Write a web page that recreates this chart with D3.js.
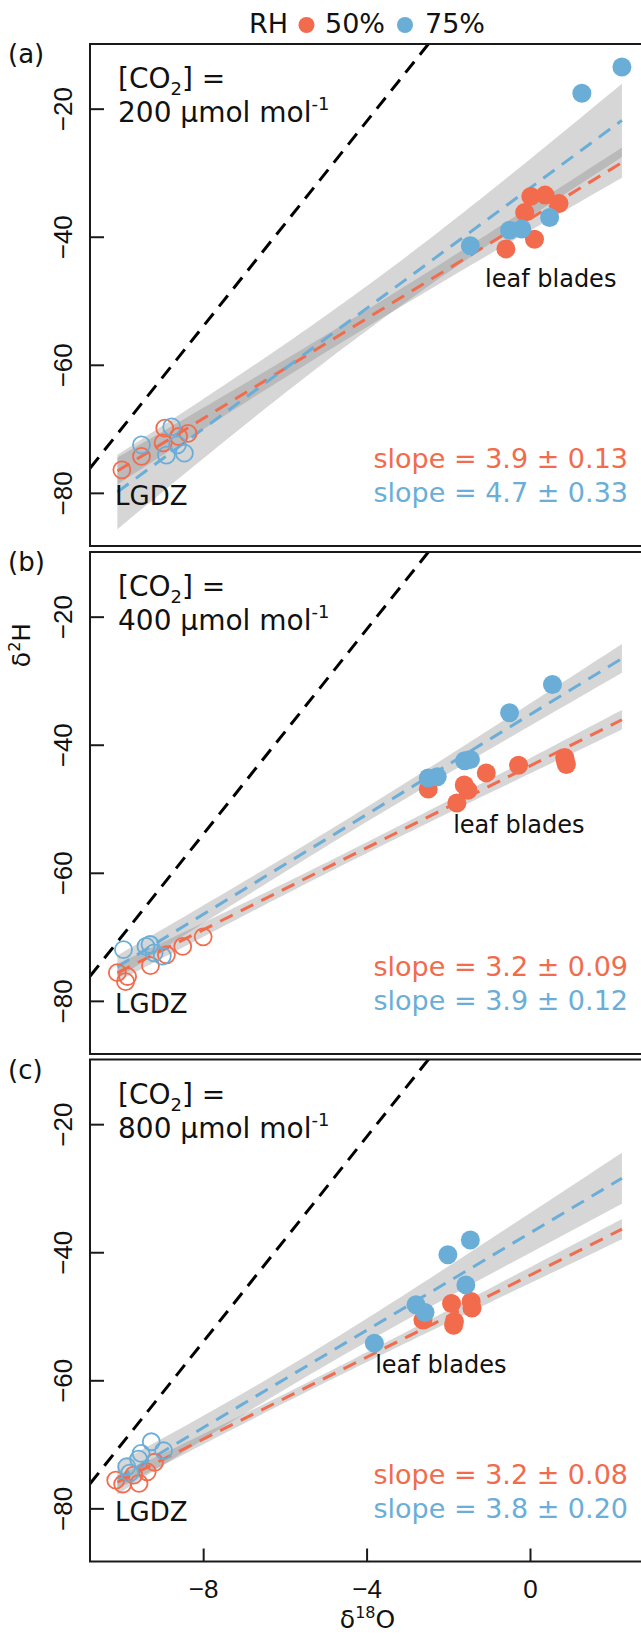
<!DOCTYPE html>
<html>
<head>
<meta charset="utf-8">
<script src="https://cdn.jsdelivr.net/npm/d3@7/dist/d3.min.js"></script>
<style>
  body { margin: 0; background: #fff; }
  svg text { font-family: "DejaVu Sans", Verdana, sans-serif; fill: #111; }
  .axis text { font-family: "Liberation Sans", Arial, sans-serif; font-size: 26px; fill: #111; }
  .axis path { display: none; }
  .axis line { stroke: #1a1a1a; stroke-width: 2; }
</style>
</head>
<body>
<div id="chart"></div>
<script>
// ---- data ----
const panelLetters = ['(a)', '(b)', '(c)'];
const co2Levels = ['200', '400', '800'];
const rhGroups = ['50%', '75%'];
const rhColors = ['#f26b4c', '#6aaed8'];

const xTicks = [-8, -4, 0];
const yTicks = [-20, -40, -60, -80];

// LGDZ (open circles) and leaf blades (filled), [d18O, d2H]
const lgdzA50 = [[-9.99, -76.4], [-9.51, -74.3], [-8.98, -72.2], [-8.94, -69.9], [-8.37, -70.7], [-8.6, -71.2]];
const lgdzA75 = [[-9.51, -72.5], [-8.77, -69.7], [-8.9, -74.1], [-8.46, -73.8], [-8.63, -72.5]];
const leafA50 = [[0.02, -33.7], [0.37, -33.5], [0.71, -34.8], [-0.13, -36.2], [0.11, -40.4], [-0.59, -41.9]];
const leafA75 = [[-1.46, -41.4], [-0.5, -39.0], [-0.2, -38.8], [0.48, -37.0], [1.27, -17.6], [2.25, -13.5]];

const lgdzB50 = [[-10.1, -75.6], [-9.85, -76.2], [-9.9, -77.0], [-9.29, -74.5], [-8.9, -72.8], [-8.5, -71.5], [-8.0, -70.0]];
const lgdzB75 = [[-9.95, -72.0], [-9.4, -71.5], [-9.2, -72.5], [-9.0, -73.0], [-9.3, -71.2]];
const leafB50 = [[0.85, -42.0], [0.87, -42.6], [0.89, -43.1], [-0.28, -43.2], [-1.07, -44.4], [-1.61, -46.3], [-1.52, -47.1], [-2.49, -46.9], [-1.79, -49.1]];
const leafB75 = [[0.55, -30.6], [-0.5, -35.0], [-1.46, -42.3], [-1.6, -42.5], [-2.27, -45.0], [-2.49, -45.2]];

const lgdzC50 = [[-10.14, -75.6], [-9.97, -76.2], [-9.57, -76.1], [-9.37, -74.3], [-9.19, -72.8], [-9.7, -74.8]];
const lgdzC75 = [[-9.87, -73.5], [-9.52, -71.4], [-9.27, -69.6], [-8.97, -71.0], [-9.8, -74.5], [-9.58, -72.3]];
const leafC50 = [[-1.92, -48.0], [-1.44, -47.7], [-1.42, -48.7], [-2.62, -50.6], [-1.87, -51.4], [-1.85, -50.8]];
const leafC75 = [[-1.46, -38.1], [-2.01, -40.4], [-1.57, -45.1], [-2.79, -48.2], [-2.57, -49.4], [-3.81, -54.2]];

// regression: slope, slope SE (from labels), intercept at d18O = 0
const slopes = [[3.9, 4.7], [3.2, 3.9], [3.2, 3.8]];
const slopeSE = [['0.13', '0.33'], ['0.09', '0.12'], ['0.08', '0.20']];
const intercepts = [[-37.2, -32.4], [-43.3, -35.3], [-43.6, -37.0]];
const fitRange = [-10.1, 2.25];
const gmwl = [8, 10]; // slope, intercept

const lgdzData = [[lgdzA50, lgdzA75], [lgdzB50, lgdzB75], [lgdzC50, lgdzC75]];
const leafData = [[leafA50, leafA75], [leafB50, leafB75], [leafC50, leafC75]];

// ---- layout ----
const W = 641, H = 1634;
const left = 90, right = 645;
const panelTops = [44, 552, 1059.5];
const panelH = 502;

const svg = d3.select('#chart').append('svg')
  .attr('width', W).attr('height', H);

const x = d3.scaleLinear().domain([-10.77, 2.815]).range([left, right]);
const y = d3.scaleLinear().domain([-88.3, -9.9]).range([panelH, 0]);

// two-sided 95% t quantile (Cornish-Fisher)
function tq(df) {
  const z = 1.959964;
  return z + (z ** 3 + z) / (4 * df) + (5 * z ** 5 + 16 * z ** 3 + 3 * z) / (96 * df * df)
    + (3 * z ** 7 + 19 * z ** 5 + 17 * z ** 3 - 15 * z) / (384 * df ** 3);
}

// legend
const legend = svg.append('g').attr('font-size', 27);
legend.append('text').attr('x', 249).attr('y', 33).text('RH');
legend.append('circle').attr('cx', 306.5).attr('cy', 25).attr('r', 8).attr('fill', rhColors[0]);
legend.append('text').attr('x', 325).attr('y', 33).text(rhGroups[0]);
legend.append('circle').attr('cx', 405).attr('cy', 25).attr('r', 8).attr('fill', rhColors[1]);
legend.append('text').attr('x', 425).attr('y', 33).text(rhGroups[1]);

const labelPos = [[-1.1, -47.8], [-1.88, -53.8], [-3.79, -58.8]];
const xs = d3.range(0, 61).map(i => fitRange[0] + (fitRange[1] - fitRange[0]) * i / 60);

panelTops.forEach((top, p) => {
  const g = svg.append('g').attr('transform', `translate(0,${top})`);

  g.append('clipPath').attr('id', 'clip' + p)
    .append('rect').attr('x', left).attr('y', 0).attr('width', right - left).attr('height', panelH);
  const plot = g.append('g').attr('clip-path', `url(#clip${p})`);

  // confidence bands
  [0, 1].forEach(k => {
    const pts = lgdzData[p][k].concat(leafData[p][k]);
    const n = pts.length;
    const xbar = d3.mean(pts, d => d[0]);
    const sxx = d3.sum(pts, d => (d[0] - xbar) ** 2);
    const t = tq(n - 2);
    const se = +slopeSE[p][k];
    const fit = v => intercepts[p][k] + slopes[p][k] * v;
    const half = v => t * se * Math.sqrt(sxx / n + (v - xbar) ** 2);
    plot.append('path')
      .datum(xs)
      .attr('fill', '#808080').attr('fill-opacity', 0.32)
      .attr('d', d3.area().x(v => x(v)).y0(v => y(fit(v) - half(v))).y1(v => y(fit(v) + half(v))));
  });

  // GMWL
  const gx = x.domain();
  plot.append('line')
    .attr('x1', x(gx[0])).attr('y1', y(gmwl[0] * gx[0] + gmwl[1]))
    .attr('x2', x(gx[1])).attr('y2', y(gmwl[0] * gx[1] + gmwl[1]))
    .attr('stroke', '#000').attr('stroke-width', 3).attr('stroke-dasharray', '14,9');

  // regression lines
  [0, 1].forEach(k => {
    const fit = v => intercepts[p][k] + slopes[p][k] * v;
    plot.append('line')
      .attr('x1', x(fitRange[0])).attr('y1', y(fit(fitRange[0])))
      .attr('x2', x(fitRange[1])).attr('y2', y(fit(fitRange[1])))
      .attr('stroke', rhColors[k]).attr('stroke-width', 3).attr('stroke-dasharray', '14,9');
  });

  // points
  [0, 1].forEach(k => {
    plot.selectAll(null).data(lgdzData[p][k]).enter().append('circle')
      .attr('cx', d => x(d[0])).attr('cy', d => y(d[1])).attr('r', 8.5)
      .attr('fill', 'none').attr('stroke', rhColors[k]).attr('stroke-width', 1.8);
  });
  [0, 1].forEach(k => {
    plot.selectAll(null).data(leafData[p][k]).enter().append('circle')
      .attr('cx', d => x(d[0])).attr('cy', d => y(d[1])).attr('r', 9.5)
      .attr('fill', rhColors[k]);
  });

  // frame
  g.append('rect').attr('x', left).attr('y', 0).attr('width', right - left).attr('height', panelH)
    .attr('fill', 'none').attr('stroke', '#1a1a1a').attr('stroke-width', 2);

  // y axis (ticks inward, labels rotated)
  const ya = g.append('g').attr('class', 'axis').attr('transform', `translate(${left},0)`)
    .call(d3.axisLeft(y).tickValues(yTicks).tickSize(-14).tickFormat(d => '\u2212' + Math.abs(d)));
  ya.selectAll('text').attr('x', null).attr('dy', null)
    .attr('text-anchor', 'middle').attr('transform', 'translate(-18,0) rotate(-90)');

  // panel letter
  g.append('text').attr('x', 8).attr('y', 19).attr('font-family', 'Liberation Sans, Arial, sans-serif')
    .attr('font-size', 26).text(panelLetters[p]);

  // CO2 label
  const co2 = g.append('text').attr('x', 118).attr('y', 44).attr('font-size', 28);
  co2.append('tspan').text('[CO');
  co2.append('tspan').attr('font-size', 18).attr('dy', 7).text('2');
  co2.append('tspan').attr('dy', -7).text('] =');
  const co2b = g.append('text').attr('x', 118).attr('y', 78).attr('font-size', 28);
  co2b.append('tspan').text(co2Levels[p] + ' \u00b5mol mol');
  co2b.append('tspan').attr('font-size', 18).attr('dy', -12).text('-1');

  // labels
  g.append('text').attr('x', x(labelPos[p][0])).attr('y', y(labelPos[p][1]))
    .attr('font-size', 24).text('leaf blades');
  g.append('text').attr('x', 115).attr('y', y(-80) + 12.5).attr('font-size', 26).text('LGDZ');

  [0, 1].forEach(k => {
    g.append('text').attr('x', 628).attr('y', panelH - 78 + 34 * k)
      .attr('text-anchor', 'end').attr('font-size', 27)
      .style('fill', rhColors[k])
      .text(`slope = ${slopes[p][k].toFixed(1)} \u00b1 ${slopeSE[p][k]}`);
  });

  if (p === 2) {
    const xa = g.append('g').attr('class', 'axis').attr('transform', `translate(0,${panelH})`)
      .call(d3.axisBottom(x).tickValues(xTicks).tickSize(-13).tickFormat(d => d < 0 ? '\u2212' + Math.abs(d) : d));
    xa.selectAll('text').attr('y', 36).attr('dy', null);
  }
});

// axis titles
const xt = svg.append('text').attr('x', 367.5).attr('y', 1628).attr('text-anchor', 'middle').attr('font-size', 25);
xt.append('tspan').text('\u03b4');
xt.append('tspan').attr('font-size', 16).attr('dy', -10).text('18');
xt.append('tspan').attr('dy', 10).text('O');

const yt = svg.append('text').attr('transform', 'translate(30,645) rotate(-90)').attr('text-anchor', 'middle').attr('font-size', 25);
yt.append('tspan').text('\u03b4');
yt.append('tspan').attr('font-size', 16).attr('dy', -10).text('2');
yt.append('tspan').attr('dy', 10).text('H');
</script>
</body>
</html>
